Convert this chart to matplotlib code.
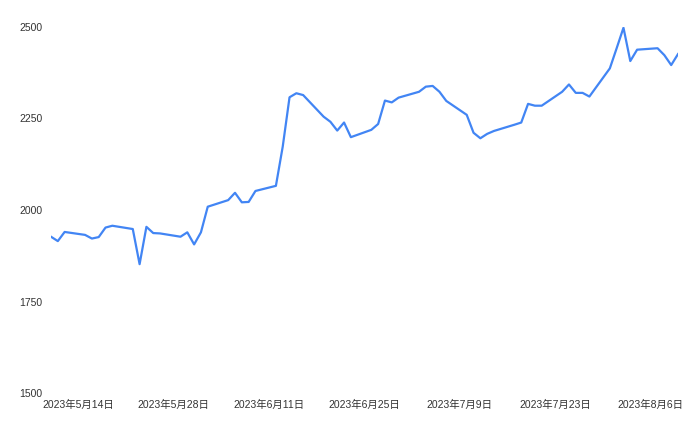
import pandas as pd
import matplotlib.pyplot as plt

plt.rcParams['font.family'] = ['Liberation Sans', 'Noto Sans CJK JP', 'DejaVu Sans']

# 日付と終値
dates = [
    "2023-05-10", "2023-05-11", "2023-05-12", "2023-05-15", "2023-05-16",
    "2023-05-17", "2023-05-18", "2023-05-19", "2023-05-22", "2023-05-23",
    "2023-05-24", "2023-05-25", "2023-05-26", "2023-05-29", "2023-05-30",
    "2023-05-31", "2023-06-01", "2023-06-02", "2023-06-05", "2023-06-06",
    "2023-06-07", "2023-06-08", "2023-06-09", "2023-06-12", "2023-06-13",
    "2023-06-14", "2023-06-15", "2023-06-16", "2023-06-19", "2023-06-20",
    "2023-06-21", "2023-06-22", "2023-06-23", "2023-06-26", "2023-06-27",
    "2023-06-28", "2023-06-29", "2023-06-30", "2023-07-03", "2023-07-04",
    "2023-07-05", "2023-07-06", "2023-07-07", "2023-07-10", "2023-07-11",
    "2023-07-12", "2023-07-13", "2023-07-14", "2023-07-17", "2023-07-18",
    "2023-07-19", "2023-07-20", "2023-07-21", "2023-07-24", "2023-07-25",
    "2023-07-26", "2023-07-27", "2023-07-28", "2023-07-31", "2023-08-01",
    "2023-08-02", "2023-08-03", "2023-08-04", "2023-08-07", "2023-08-08",
    "2023-08-09", "2023-08-10",
]
values = [
    1927, 1915, 1940, 1932, 1922,
    1926, 1952, 1957, 1948, 1852,
    1954, 1937, 1936, 1927, 1939,
    1906, 1939, 2009, 2027, 2047,
    2021, 2022, 2052, 2066, 2173,
    2308, 2319, 2314, 2255, 2241,
    2217, 2239, 2199, 2219, 2235,
    2299, 2294, 2307, 2323, 2337,
    2339, 2323, 2298, 2260, 2211,
    2196, 2208, 2216, 2233, 2239,
    2290, 2285, 2285, 2323, 2343,
    2320, 2320, 2310, 2387, 2442,
    2498, 2407, 2438, 2442, 2423,
    2396, 2426,
]
tick_dates = ["2023-05-14", "2023-05-28", "2023-06-11", "2023-06-25",
              "2023-07-09", "2023-07-23", "2023-08-06"]
tick_labels = ["2023年5月14日", "2023年5月28日", "2023年6月11日", "2023年6月25日",
               "2023年7月9日", "2023年7月23日", "2023年8月6日"]
y_ticks = [1500, 1750, 2000, 2250, 2500]

x = pd.to_datetime(dates)

fig = plt.figure(figsize=(7, 4.33), dpi=100)
ax = fig.add_axes([51 / 700, 1 - 393 / 433, 627 / 700, 366 / 433])
ax.plot(x, values, color="#4285F4", linewidth=1.6, solid_joinstyle="round")

ax.set_xlim(x[0], x[-1])
ax.set_ylim(1500, 2500)
ax.set_yticks(y_ticks)
ax.set_xticks(pd.to_datetime(tick_dates))
ax.set_xticklabels(tick_labels)

for s in ax.spines.values():
    s.set_visible(False)
ax.tick_params(axis="both", length=0, labelsize=7.5, colors="#333333")
ax.tick_params(axis="x", pad=5)
ax.tick_params(axis="y", pad=6)

fig.savefig("out.png", dpi=100)
